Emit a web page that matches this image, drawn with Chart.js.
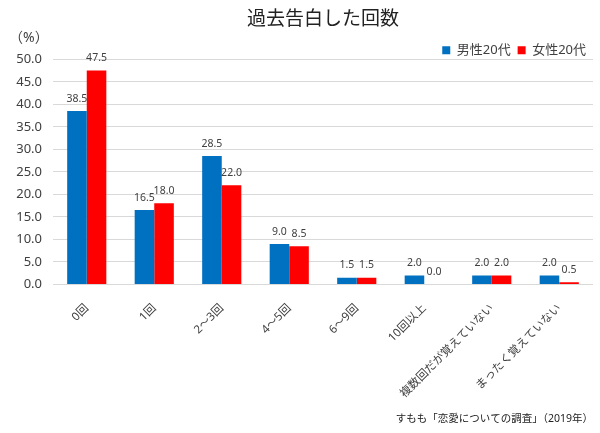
<!DOCTYPE html>
<html>
<head>
<meta charset="utf-8">
<script src="https://cdn.jsdelivr.net/npm/chart.js@4"></script>
<style>
  html, body { margin: 0; padding: 0; background: #fff; }
  #wrap { width: 600px; height: 433px; }
</style>
</head>
<body>
<div id="wrap"><canvas id="chart"></canvas></div>
<script>
// データ
const categories = ['0回', '1回', '2〜3回', '4〜5回', '6〜9回', '10回以上', '複数回だが覚えていない', 'まったく覚えていない'];
const maleValues = [38.5, 16.5, 28.5, 9.0, 1.5, 2.0, 2.0, 2.0];
const femaleValues = [47.5, 18.0, 22.0, 8.5, 1.5, 0.0, 2.0, 0.5];
const seriesNames = ['男性20代', '女性20代'];
const yTicks = [0, 5, 10, 15, 20, 25, 30, 35, 40, 45, 50];

const FONT = '"Noto Sans", "Noto Sans CJK JP", sans-serif';
const TEXT = '#404040';

// 棒の上に値を書く + 単位
const valueLabels = {
    id: 'valueLabels',
    afterDatasetsDraw(chart) {
        const ctx = chart.ctx;
        ctx.save();
        ctx.font = '10.5px ' + FONT;
        ctx.fillStyle = TEXT;
        ctx.textAlign = 'center';
        ctx.textBaseline = 'bottom';
        chart.data.datasets.forEach((ds, i) => {
            chart.getDatasetMeta(i).data.forEach((bar, j) => {
                ctx.fillText(ds.data[j].toFixed(1), bar.x, bar.y - 7);
            });
        });
        ctx.font = '14px ' + FONT;
        ctx.textAlign = 'left';
        ctx.textBaseline = 'middle';
        ctx.fillText('（%）', 9, 38);
        ctx.restore();
    }
};

new Chart(document.getElementById('chart'), {
    type: 'bar',
    data: {
        labels: categories,
        datasets: [
            { label: seriesNames[0], data: maleValues, backgroundColor: '#0070C0' },
            { label: seriesNames[1], data: femaleValues, backgroundColor: '#FF0000' }
        ]
    },
    options: {
        responsive: true,
        maintainAspectRatio: false,
        animation: false,
        layout: { padding: { top: 4, right: 7, bottom: 6, left: 0 } },
        datasets: { bar: { categoryPercentage: 0.58, barPercentage: 1.0 } },
        plugins: {
            title: {
                display: true,
                text: '過去告白した回数',
                fullSize: false,
                color: '#222',
                font: { family: FONT, size: 19, weight: 'normal' },
                padding: { top: 4.6, bottom: 5.4 }
            },
            legend: {
                position: 'top',
                align: 'end',
                maxHeight: 22.5,
                labels: {
                    color: TEXT,
                    font: { family: FONT, size: 13 },
                    boxWidth: 8,
                    boxHeight: 8,
                    padding: 7
                }
            },
            subtitle: {
                display: true,
                position: 'bottom',
                align: 'end',
                text: 'すもも「恋愛についての調査」（2019年）',
                color: '#222',
                font: { family: FONT, size: 10.5 },
                padding: { top: 0, bottom: 2 }
            },
            tooltip: { enabled: false }
        },
        scales: {
            x: {
                grid: { display: false },
                border: { display: false },
                ticks: {
                    color: TEXT,
                    font: { family: FONT, size: 11.5 },
                    minRotation: 45,
                    maxRotation: 45,
                    autoSkip: false,
                    padding: 9
                },
                afterFit(scale) { scale.height = 128; }
            },
            y: {
                min: 0,
                max: 50,
                border: { display: false },
                grid: { color: '#d9d9d9', drawTicks: false },
                afterBuildTicks(scale) { scale.ticks = yTicks.map(v => ({ value: v })); },
                ticks: {
                    color: TEXT,
                    font: { family: FONT, size: 13 },
                    padding: 11,
                    callback: v => v.toFixed(1)
                },
                afterFit(scale) { scale.width = 53; }
            }
        }
    },
    plugins: [valueLabels]
});
</script>
</body>
</html>
